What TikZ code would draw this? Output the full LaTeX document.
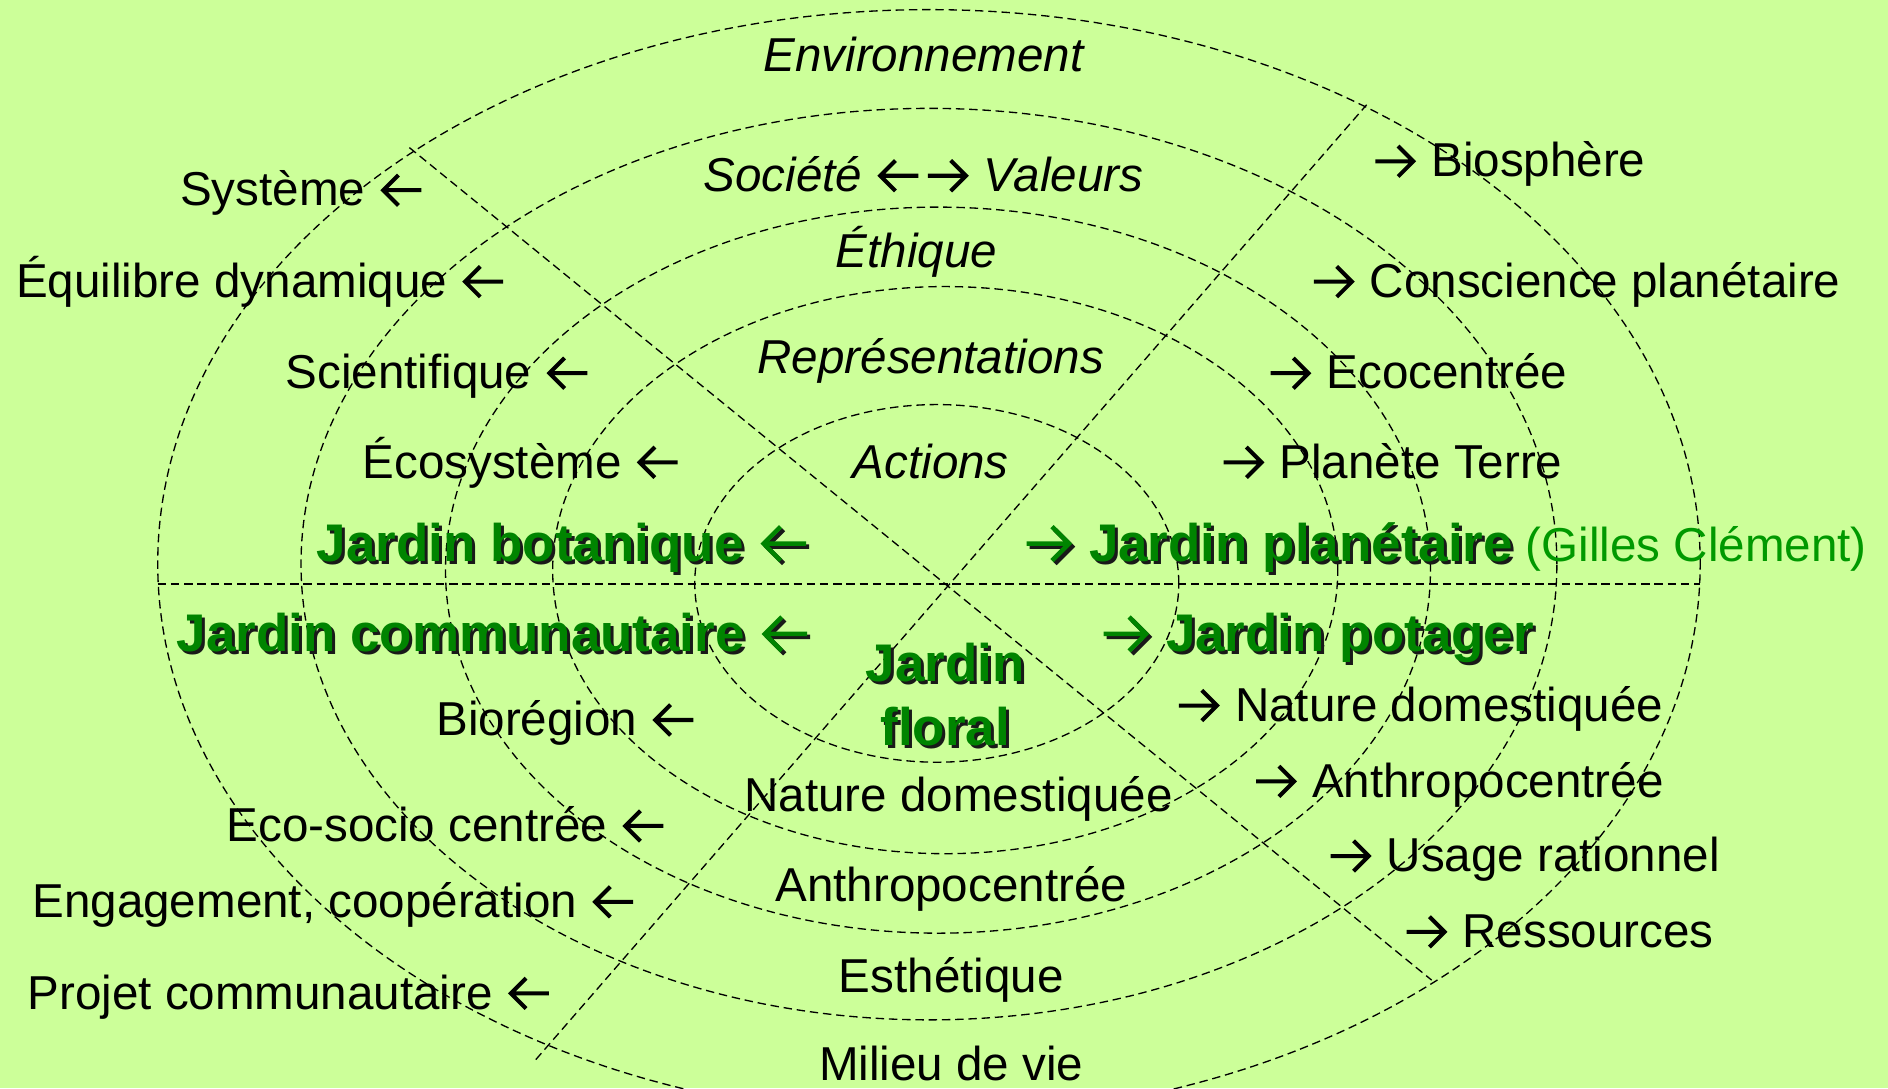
\documentclass[tikz,border=0pt]{standalone}
\usepackage{fontspec}
\setmainfont{Liberation Sans}
\definecolor{bg}{HTML}{CCFF99}
\definecolor{jgreen}{HTML}{008400}
\definecolor{lgreen}{HTML}{009900}
\newcommand{\arL}{\tikz[baseline=0pt,x=1em,y=1em]{\useasboundingbox (0,0) rectangle (1,0.66);
  \draw[line width=0.085em,line cap=butt,line join=miter] (0.9,0.33) -- (0.12,0.33) (0.42,0.65) -- (0.1,0.33) -- (0.42,0.01);}}
\newcommand{\arR}{\tikz[baseline=0pt,x=1em,y=1em]{\useasboundingbox (0,0) rectangle (1,0.66);
  \draw[line width=0.085em,line cap=butt,line join=miter] (0.1,0.33) -- (0.88,0.33) (0.58,0.65) -- (0.9,0.33) -- (0.58,0.01);}}
\tikzset{
  lbl/.style={inner sep=0pt, font=\fontsize{39.5}{44}\selectfont},
  ital/.style={inner sep=0pt, font=\fontsize{39.5}{44}\selectfont\itshape},
  jb/.style={inner sep=0pt, font=\fontsize{44}{52}\selectfont\bfseries, text=jgreen},
  jbs/.style={inner sep=0pt, font=\fontsize{44}{52}\selectfont\bfseries, text=black!90},
  ring/.style={draw=black, line width=1.1pt, dash pattern=on 7pt off 4pt},
}
\begin{document}
\begin{tikzpicture}[x=1pt,y=-1pt]
\useasboundingbox (0,0) rectangle (1568,903.6);
\clip (0,0) rectangle (1568,903.6);
\fill[bg] (0,0) rectangle (1568,903.6);

% rings
\draw[ring] (771.5,468) ellipse [x radius=640.5pt, y radius=460pt];
\draw[ring] (771.5,468.5) ellipse [x radius=521.5pt, y radius=378.5pt];
\draw[ring] (779,473.5) ellipse [x radius=409pt, y radius=301.5pt];
\draw[ring] (785,473.5) ellipse [x radius=326pt, y radius=235.5pt];
\draw[ring] (778,484.5) ellipse [x radius=201pt, y radius=148.5pt];

% axes
\coordinate (hL) at (131,485);
\coordinate (hR) at (1412,485);
\coordinate (aS) at (340,122.6);
\coordinate (aE) at (1189,814);
\coordinate (bS) at (445,880);
\coordinate (bE) at (1135,87);
\draw[ring] (hL) -- (hR);
\draw[ring] (aS) -- (aE);
\draw[ring] (bS) -- (bE);

% centre column
\node[ital, anchor=base] (env) at (767,59) {Environnement};
\node[ital, anchor=base] (soc) at (767,159) {Société \arL\arR\ Valeurs};
\node[ital, anchor=base] (eth) at (761,222) {Éthique};
\node[ital, anchor=base] (rep) at (773,310) {Représentations};
\node[ital, anchor=base] (act) at (773,397) {Actions};
\node[jbs, anchor=base] (flo1s) at (787.5,568.5) {Jardin};
\node[jb, anchor=base] (flo1) at (785,566) {Jardin};
\node[jbs, anchor=base] (flo2s) at (787.5,621.5) {floral};
\node[jb, anchor=base] (flo2) at (785,619) {floral};
\node[lbl, anchor=base] (natc) at (796,674) {Nature domestiquée};
\node[lbl, anchor=base] (antc) at (790,749) {Anthropocentrée};
\node[lbl, anchor=base] (est) at (790,824) {Esthétique};
\node[lbl, anchor=base] (mil) at (790,897.5) {Milieu de vie};

% left column
\node[lbl, anchor=base east] (sys) at (354,171) {Système \arL};
\node[lbl, anchor=base east] (equ) at (422,247) {Équilibre dynamique \arL};
\node[lbl, anchor=base east] (sci) at (492,323) {Scientifique \arL};
\node[lbl, anchor=base east] (eco) at (567,397) {Écosystème \arL};
\node[jbs, anchor=base east] (bots) at (676.5,468.5) {Jardin botanique \arL};
\node[jb, anchor=base east] (bot) at (674,466) {Jardin botanique \arL};
\node[jbs, anchor=base east] (coms) at (677.5,543.5) {Jardin communautaire \arL};
\node[jb, anchor=base east] (com) at (675,541) {Jardin communautaire \arL};
\node[lbl, anchor=base east] (bio) at (580,611) {Biorégion \arL};
\node[lbl, anchor=base east] (ecs) at (555,699) {Eco-socio centrée \arL};
\node[lbl, anchor=base east] (eng) at (530,762) {Engagement, coopération \arL};
\node[lbl, anchor=base east] (pro) at (460,838) {Projet communautaire \arL};

% right column
\node[lbl, anchor=base west] (bsp) at (1138,147) {\arR\ Biosphère};
\node[lbl, anchor=base west] (con) at (1087,247) {\arR\ Conscience planétaire};
\node[lbl, anchor=base west] (ecc) at (1051,323) {\arR\ Ecocentrée};
\node[lbl, anchor=base west] (pla) at (1012,397) {\arR\ Planète Terre};
\node[jbs, anchor=base west] (plns) at (850.5,468.5) {\arR\ Jardin planétaire};
\node[jb, anchor=base west] (pln) at (848,466) {\arR\ Jardin planétaire};
\node[lbl, anchor=base west, text=lgreen] (gil) at (1267,466) {(Gilles Clément)};
\node[jbs, anchor=base west] (pots) at (914.5,543.5) {\arR\ Jardin potager};
\node[jb, anchor=base west] (pot) at (912,541) {\arR\ Jardin potager};
\node[lbl, anchor=base west] (natr) at (975,599) {\arR\ Nature domestiquée};
\node[lbl, anchor=base west] (antr) at (1039,662) {\arR\ Anthropocentrée};
\node[lbl, anchor=base west] (usa) at (1101,724) {\arR\ Usage rationnel};
\node[lbl, anchor=base west] (res) at (1164,787) {\arR\ Ressources};
\end{tikzpicture}
\end{document}
